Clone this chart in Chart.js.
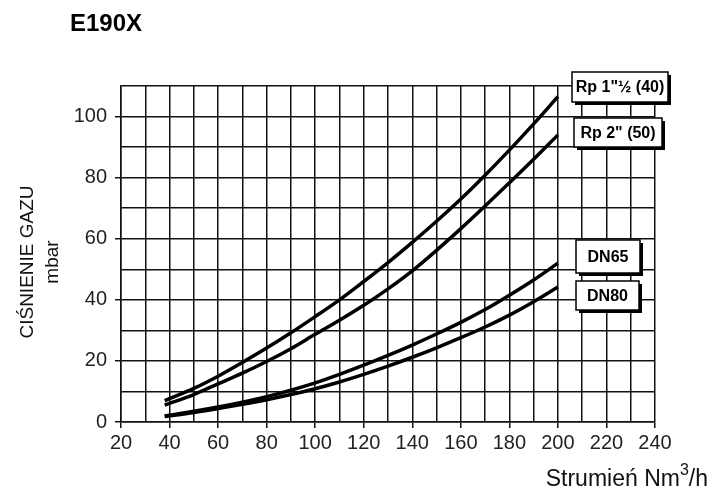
<!DOCTYPE html>
<html>
<head>
<meta charset="utf-8">
<script src="https://cdn.jsdelivr.net/npm/chart.js@4"></script>
<style>
  body { margin: 0; background: #fff; }
  #wrap { width: 712px; height: 488px; }
</style>
</head>
<body>
<div id="wrap"><canvas id="myChart" width="712" height="488"></canvas></div>
<script>
'use strict';

// flow (Nm3/h) where the curves were read
let flow = [38, 50, 60, 70, 80, 90, 100, 110, 120, 130, 140, 150, 160, 170, 180, 190, 200];
// pressure drop (mbar)
let rp40 = [7, 11, 15, 19.5, 24.2, 29.2, 34.5, 40, 46, 52.2, 58.8, 65.7, 73, 80.8, 89, 97.6, 106.5];
let rp50 = [5.5, 9, 12.5, 16, 19.8, 24, 28.7, 33.3, 38.2, 43.6, 49.5, 56.2, 63.3, 70.7, 78.3, 86, 94];
let dn65 = [2, 3.5, 4.9, 6.5, 8.3, 10.4, 12.8, 15.6, 18.6, 21.8, 25.2, 28.8, 32.6, 36.8, 41.5, 46.5, 52];
let dn80 = [1.8, 3.1, 4.4, 5.8, 7.3, 9, 10.9, 13.1, 15.6, 18.3, 21.2, 24.3, 27.6, 31.1, 35, 39.4, 44.2];

let seriesNames = ['Rp 1"\u00bd (40)', 'Rp 2" (50)', 'DN65', 'DN80'];
let xTicks = [20, 40, 60, 80, 100, 120, 140, 160, 180, 200, 220, 240];
let yTicks = [0, 20, 40, 60, 80, 100];

let ctx = document.getElementById('myChart');

function toPoints(values) {
  return values.map((v, i) => ({ x: flow[i], y: v }));
}

// label boxes at the right end of the curves (left, top, right, bottom)
let boxes = [
  [572, 72, 668, 102],
  [574, 118, 662, 147],
  [576, 240, 640, 273],
  [576, 281, 639, 310]
];

let textPlugin = {
  id: 'textPlugin',
  afterDraw(chart) {
    let c = chart.ctx;
    c.save();
    c.fillStyle = '#000';

    // title
    c.font = 'bold 24px "Liberation Sans", Arial, sans-serif';
    c.textAlign = 'left';
    c.textBaseline = 'alphabetic';
    c.fillText('E190X', 70, 31);

    // y title, two lines
    c.save();
    c.translate(28, 262);
    c.rotate(-Math.PI / 2);
    c.textAlign = 'center';
    c.textBaseline = 'middle';
    c.fillStyle = '#111';
    c.font = '19px "Liberation Sans", Arial, sans-serif';
    c.fillText('CIŚNIENIE GAZU', 0, 0);
    c.fillText('mbar', 0, 25);
    c.restore();

    // x title with superscript
    c.fillStyle = '#111';
    c.textBaseline = 'alphabetic';
    c.font = '23px "Liberation Sans", Arial, sans-serif';
    let part1 = 'Strumie\u0144 Nm';
    let part3 = '/h';
    let w1 = c.measureText(part1).width;
    let w3 = c.measureText(part3).width;
    c.font = '16px "Liberation Sans", Arial, sans-serif';
    let w2 = c.measureText('3').width;
    let start = 708 - (w1 + w2 + w3);
    c.font = '23px "Liberation Sans", Arial, sans-serif';
    c.fillText(part1, start, 486);
    c.font = '16px "Liberation Sans", Arial, sans-serif';
    c.fillText('3', start + w1, 475);
    c.font = '23px "Liberation Sans", Arial, sans-serif';
    c.fillText(part3, start + w1 + w2, 486);

    // series label boxes with shadow
    boxes.forEach((b, i) => {
      let w = b[2] - b[0];
      let h = b[3] - b[1];
      c.fillStyle = '#000';
      c.fillRect(b[0] + 3, b[1] + 3, w, h);
      c.fillStyle = '#fff';
      c.fillRect(b[0], b[1], w, h);
      c.strokeStyle = '#000';
      c.lineWidth = 1.5;
      c.strokeRect(b[0], b[1], w, h);
      c.fillStyle = '#000';
      c.font = 'bold 16px "Liberation Sans", Arial, sans-serif';
      c.textAlign = 'center';
      c.textBaseline = 'middle';
      c.fillText(seriesNames[i], (b[0] + b[2]) / 2, (b[1] + b[3]) / 2 + 1);
    });
    c.restore();
  }
};

let lineStyle = {
  borderColor: '#000',
  borderWidth: 3.5,
  pointRadius: 0,
  fill: false,
  cubicInterpolationMode: 'monotone'
};

new Chart(ctx, {
  type: 'line',
  data: {
    datasets: [
      Object.assign({ label: seriesNames[0], data: toPoints(rp40) }, lineStyle),
      Object.assign({ label: seriesNames[1], data: toPoints(rp50) }, lineStyle),
      Object.assign({ label: seriesNames[2], data: toPoints(dn65) }, lineStyle),
      Object.assign({ label: seriesNames[3], data: toPoints(dn80) }, lineStyle)
    ]
  },
  options: {
    responsive: false,
    animation: false,
    layout: {
      padding: { left: 0, top: 86, right: 57, bottom: 0 }
    },
    plugins: {
      legend: { display: false },
      tooltip: { enabled: false }
    },
    scales: {
      x: {
        type: 'linear',
        min: 20,
        max: 240,
        afterFit(scale) { scale.height = 66; },
        border: { color: '#111', width: 1.5 },
        grid: {
          color: '#111',
          lineWidth: 1.5,
          tickLength: 6,
          tickColor: (c) => xTicks.includes(c.tick.value) ? '#111' : 'rgba(0,0,0,0)'
        },
        ticks: {
          stepSize: 10,
          autoSkip: false,
          maxRotation: 0,
          padding: 3,
          color: '#222',
          font: { family: '"Liberation Sans", Arial, sans-serif', size: 20 },
          callback: (v) => xTicks.includes(v) ? v : ''
        }
      },
      y: {
        min: 0,
        max: 110,
        afterFit(scale) { scale.width = 121; },
        border: { color: '#111', width: 1.5 },
        grid: {
          color: '#111',
          lineWidth: 1.5,
          tickLength: 6,
          tickColor: (c) => yTicks.includes(c.tick.value) ? '#111' : 'rgba(0,0,0,0)'
        },
        ticks: {
          stepSize: 10,
          autoSkip: false,
          padding: 8,
          color: '#222',
          font: { family: '"Liberation Sans", Arial, sans-serif', size: 20 },
          callback: (v) => yTicks.includes(v) ? v : ''
        }
      }
    }
  },
  plugins: [textPlugin]
});
</script>
</body>
</html>
